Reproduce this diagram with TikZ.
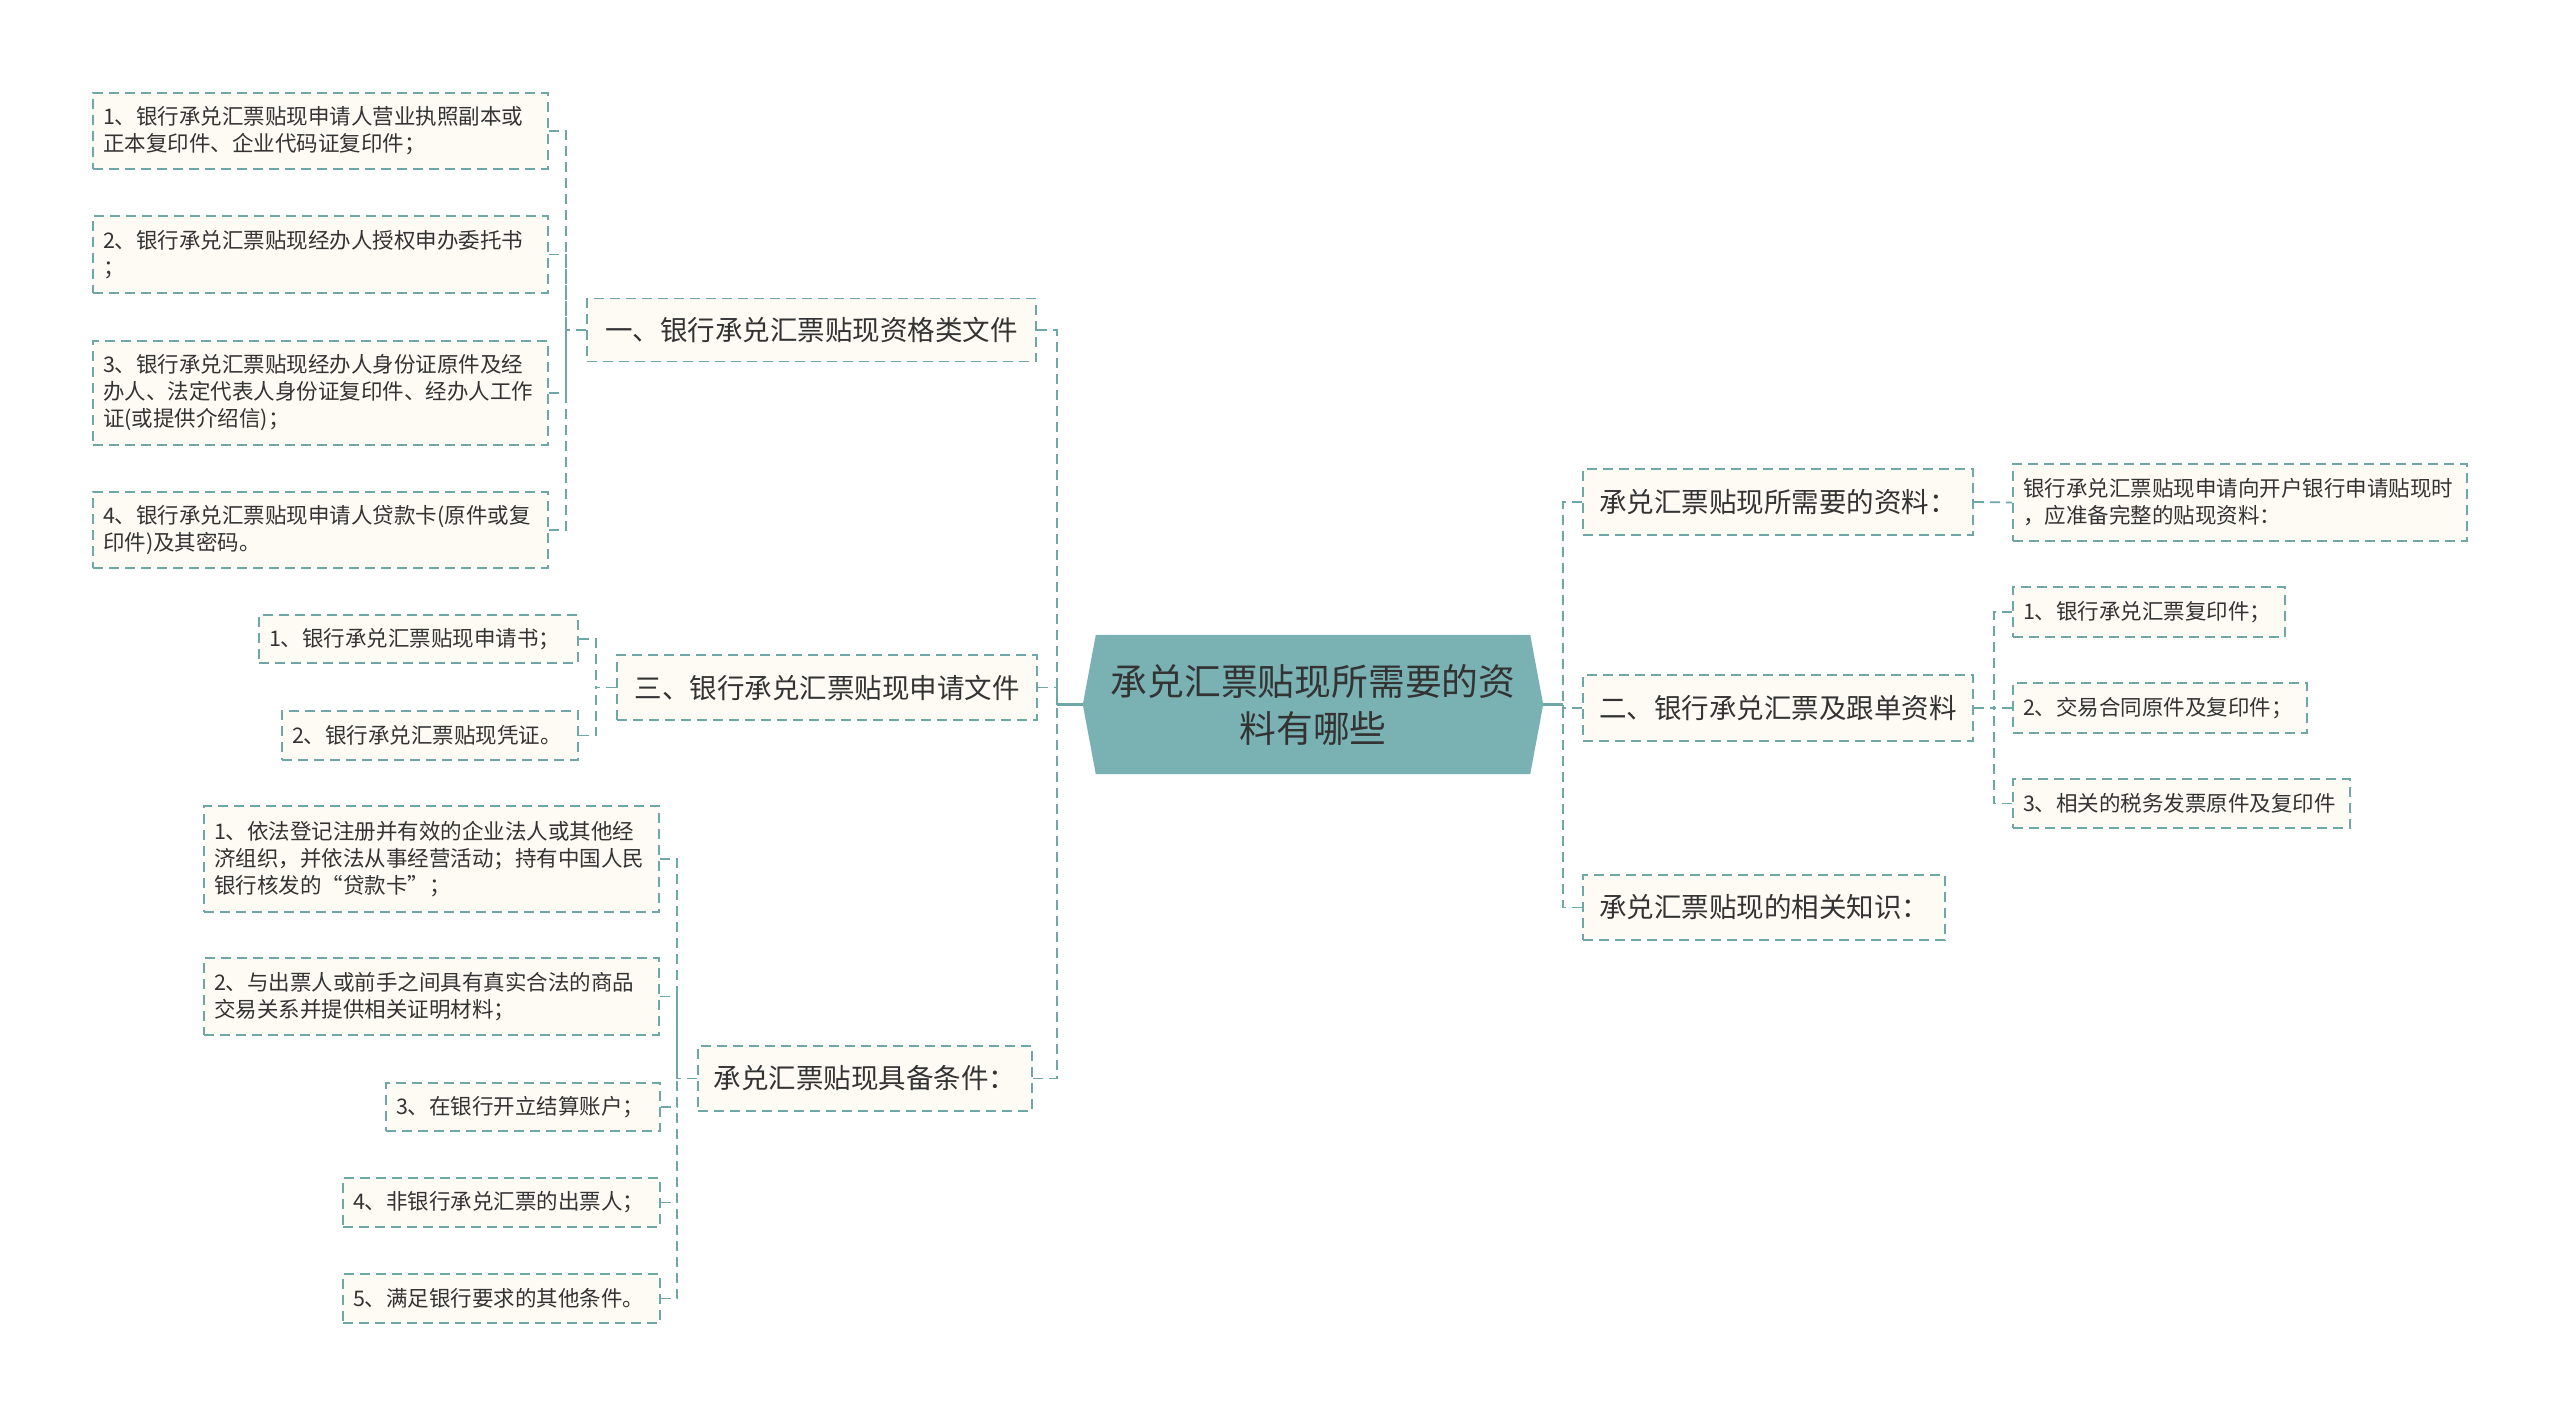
\documentclass[tikz,border=0pt]{standalone}
\usepackage{fontspec}
\newfontfamily\cjk{Noto Sans CJK SC}
\usetikzlibrary{backgrounds}
\definecolor{bd}{HTML}{6FA7A6}
\definecolor{lf}{HTML}{FDFBF3}
\definecolor{cf}{HTML}{7AB2B4}
\definecolor{tx}{HTML}{333333}
\begin{document}
\begin{tikzpicture}[x=1pt,y=-1pt,
  leaf/.style={draw=bd, line width=1.8pt, dash pattern=on 10pt off 6pt, fill=lf, text=tx,
    font={\cjk\fontsize{21.5pt}{27pt}\selectfont}, inner xsep=10pt, inner ysep=0pt, align=left},
  br/.style={draw=bd, line width=1.8pt, dash pattern=on 10pt off 6pt, fill=lf, text=tx,
    font={\cjk\fontsize{27.5pt}{34pt}\selectfont}, inner sep=0pt, align=center},
  hub/.style={text=tx, font={\cjk\fontsize{36.8pt}{47pt}\selectfont}, inner sep=0pt, align=center},
  conn/.style={draw=bd, line width=1.8pt, dash pattern=on 10pt off 6pt},
  solidc/.style={draw=bd, line width=2.5pt}]
\useasboundingbox (0,0) rectangle (2560,1416);

% centre
\node[hub, minimum width=460pt, minimum height=139pt] (ce) at (1313,704.5) {承兑汇票贴现所需要的资\\料有哪些};
\begin{scope}[on background layer]
  \fill[white] (0,0) rectangle (2560,1416);
  \fill[cf] (ce.west) -- ([xshift=13pt]ce.north west) -- ([xshift=-13pt]ce.north east) -- (ce.east)
    -- ([xshift=-13pt]ce.south east) -- ([xshift=13pt]ce.south west) -- cycle;
\end{scope}

% left branches
\node[br, minimum width=449pt, minimum height=63pt] (b1) at (811.5,330) {一、银行承兑汇票贴现资格类文件};
\node[br, minimum width=420pt, minimum height=65pt] (b3) at (827,687.5) {三、银行承兑汇票贴现申请文件};
\node[br, minimum width=334pt, minimum height=65pt] (b4) at (865,1078.5) {承兑汇票贴现具备条件：};

% right branches
\node[br, minimum width=390pt, minimum height=66pt] (bA) at (1778,502) {承兑汇票贴现所需要的资料：};
\node[br, minimum width=390pt, minimum height=66pt] (b2) at (1778,708) {二、银行承兑汇票及跟单资料};
\node[br, minimum width=362pt, minimum height=65pt] (bC) at (1764,907.5) {承兑汇票贴现的相关知识：};

% leaves of b1
\node[leaf, text width=435pt, minimum height=76pt] (l11) at (320.5,131) {1、银行承兑汇票贴现申请人营业执照副本或\\正本复印件、企业代码证复印件；};
\node[leaf, text width=435pt, minimum height=77pt] (l12) at (320.5,254.5) {2、银行承兑汇票贴现经办人授权申办委托书\\；};
\node[leaf, text width=435pt, minimum height=104pt] (l13) at (320.5,393) {3、银行承兑汇票贴现经办人身份证原件及经\\办人、法定代表人身份证复印件、经办人工作\\证(或提供介绍信)；};
\node[leaf, text width=435pt, minimum height=76pt] (l14) at (320.5,530) {4、银行承兑汇票贴现申请人贷款卡(原件或复\\印件)及其密码。};

% leaves of b3
\node[leaf, text width=299pt, minimum height=48pt] (l31) at (418.5,639) {1、银行承兑汇票贴现申请书；};
\node[leaf, text width=276pt, minimum height=49pt] (l32) at (430,735.5) {2、银行承兑汇票贴现凭证。};

% leaves of b4
\node[leaf, text width=435pt, minimum height=106pt] (l41) at (431.5,859) {1、依法登记注册并有效的企业法人或其他经\\济组织，并依法从事经营活动；持有中国人民\\银行核发的“贷款卡”；};
\node[leaf, text width=435pt, minimum height=77pt] (l42) at (431.5,996.5) {2、与出票人或前手之间具有真实合法的商品\\交易关系并提供相关证明材料；};
\node[leaf, text width=254pt, minimum height=48pt] (l43) at (523,1107) {3、在银行开立结算账户；};
\node[leaf, text width=297pt, minimum height=49pt] (l44) at (501.5,1202.5) {4、非银行承兑汇票的出票人；};
\node[leaf, text width=297pt, minimum height=49pt] (l45) at (501.5,1298.5) {5、满足银行要求的其他条件。};

% right leaves
\node[leaf, text width=434pt, minimum height=77pt] (lA1) at (2240,502.5) {银行承兑汇票贴现申请向开户银行申请贴现时\\，应准备完整的贴现资料：};
\node[leaf, text width=252pt, minimum height=50pt] (l21) at (2149,612) {1、银行承兑汇票复印件；};
\node[leaf, text width=274pt, minimum height=50pt] (l22) at (2160,708) {2、交易合同原件及复印件；};
\node[leaf, text width=317pt, minimum height=49pt] (l23) at (2181.5,803.5) {3、相关的税务发票原件及复印件};

% connectors from centre
\coordinate (lsp) at ([xshift=-26pt]ce.west);
\coordinate (rsp) at ([xshift=20pt]ce.east);
\draw[solidc] (ce.west) -- (lsp);
\draw[solidc] (ce.east) -- (rsp);
\draw[conn] (b1.east) -| (lsp);
\draw[conn] (b3.east) -| (lsp);
\draw[conn] (b4.east) -| (lsp);
\draw[conn] (bA.west) -| (rsp);
\draw[conn] (b2.west) -| (rsp);
\draw[conn] (bC.west) -| (rsp);

% branch to leaves
\coordinate (s1) at ([xshift=-20pt]b1.west);
\draw[conn] (b1.west) -- (s1);
\foreach \n in {l11,l12,l13,l14} \draw[conn] (\n.east) -| (s1);
\coordinate (s3) at ([xshift=-20pt]b3.west);
\draw[conn] (b3.west) -- (s3);
\foreach \n in {l31,l32} \draw[conn] (\n.east) -| (s3);
\coordinate (s4) at ([xshift=-20pt]b4.west);
\draw[conn] (b4.west) -- (s4);
\foreach \n in {l41,l42,l43,l44,l45} \draw[conn] (\n.east) -| (s4);
\coordinate (s2) at ([xshift=20pt]b2.east);
\draw[conn] (b2.east) -- (s2);
\foreach \n in {l21,l22,l23} \draw[conn] (\n.west) -| (s2);
\draw[conn] (bA.east) -- (lA1.west);
\end{tikzpicture}
\end{document}
